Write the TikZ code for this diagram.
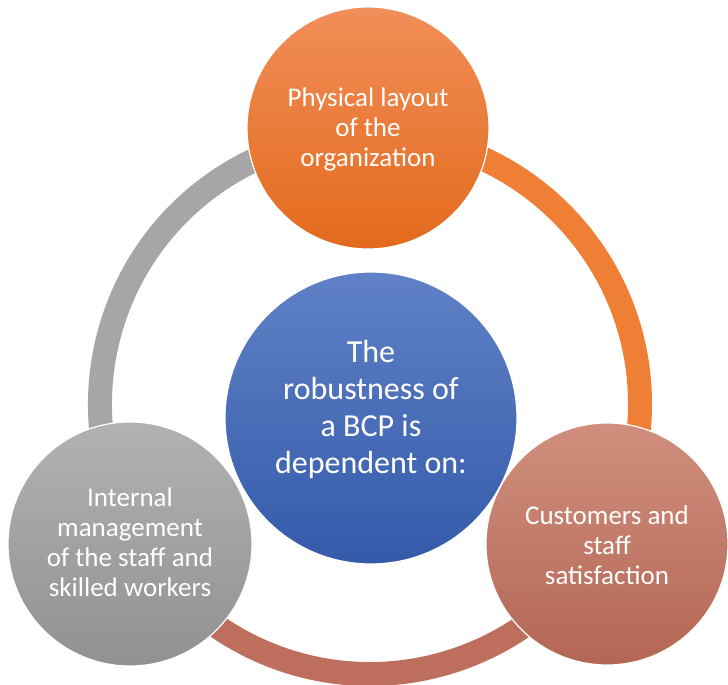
\documentclass[tikz,border=0pt]{standalone}
\usepackage{fontspec}
\setmainfont{Carlito}
\definecolor{orA}{RGB}{241,142,88}
\definecolor{orB}{RGB}{227,106,28}
\definecolor{blA}{RGB}{96,129,198}
\definecolor{blB}{RGB}{52,90,170}
\definecolor{grA}{RGB}{178,178,178}
\definecolor{grB}{RGB}{145,145,145}
\definecolor{brA}{RGB}{208,143,126}
\definecolor{brB}{RGB}{180,102,84}
\definecolor{ringor}{RGB}{238,127,52}
\definecolor{ringgr}{RGB}{166,166,166}
\definecolor{ringbr}{RGB}{190,110,92}
\begin{document}
\begin{tikzpicture}[x=1pt,y=1pt,
  bubble/.style={circle,draw=white,line width=1.2pt,inner sep=0pt},
  ringarc/.style={line width=24pt},
  txt/.style={align=center,text=white,inner sep=0pt},
  outer/.style={txt,font=\fontsize{27}{30}\selectfont},
  inner/.style={txt,font=\fontsize{32}{37}\selectfont},
]
\useasboundingbox (0,0) rectangle (728,685);
\coordinate (rc) at (370,281);
% ring arcs
\draw[ringarc,ringor] (rc) ++(90:270pt) arc[start angle=90,end angle=-30,radius=270pt] coordinate (rbr);
\draw[ringarc,ringbr] (rbr) arc[start angle=-30,end angle=-150,radius=270pt] coordinate (rbl);
\draw[ringarc,ringgr] (rbl) arc[start angle=210,end angle=90,radius=270pt];
% circles
\node[bubble,minimum size=242pt,top color=orA,bottom color=orB] (top) at (368,557) {};
\node[bubble,minimum size=244pt,top color=grA,bottom color=grB] (left) at (130,141) {};
\node[bubble,minimum size=242pt,top color=brA,bottom color=brB] (right) at (607,141) {};
\node[bubble,minimum size=292pt,top color=blA,bottom color=blB] (center) at (371,267) {};
% texts
\node[outer] (toptext) at ([yshift=-1pt]top.center) {Physical layout\\of the\\organization};
\node[outer] (lefttext) at ([yshift=2pt]left.center) {Internal\\management\\of the staff and\\skilled workers};
\node[outer] (righttext) at ([yshift=-1pt]right.center) {Customers and\\staff\\satisfaction};
\node[inner] (centertext) at ([yshift=9pt]center.center) {The\\robustness of\\a BCP is\\dependent on:};
\end{tikzpicture}
\end{document}
